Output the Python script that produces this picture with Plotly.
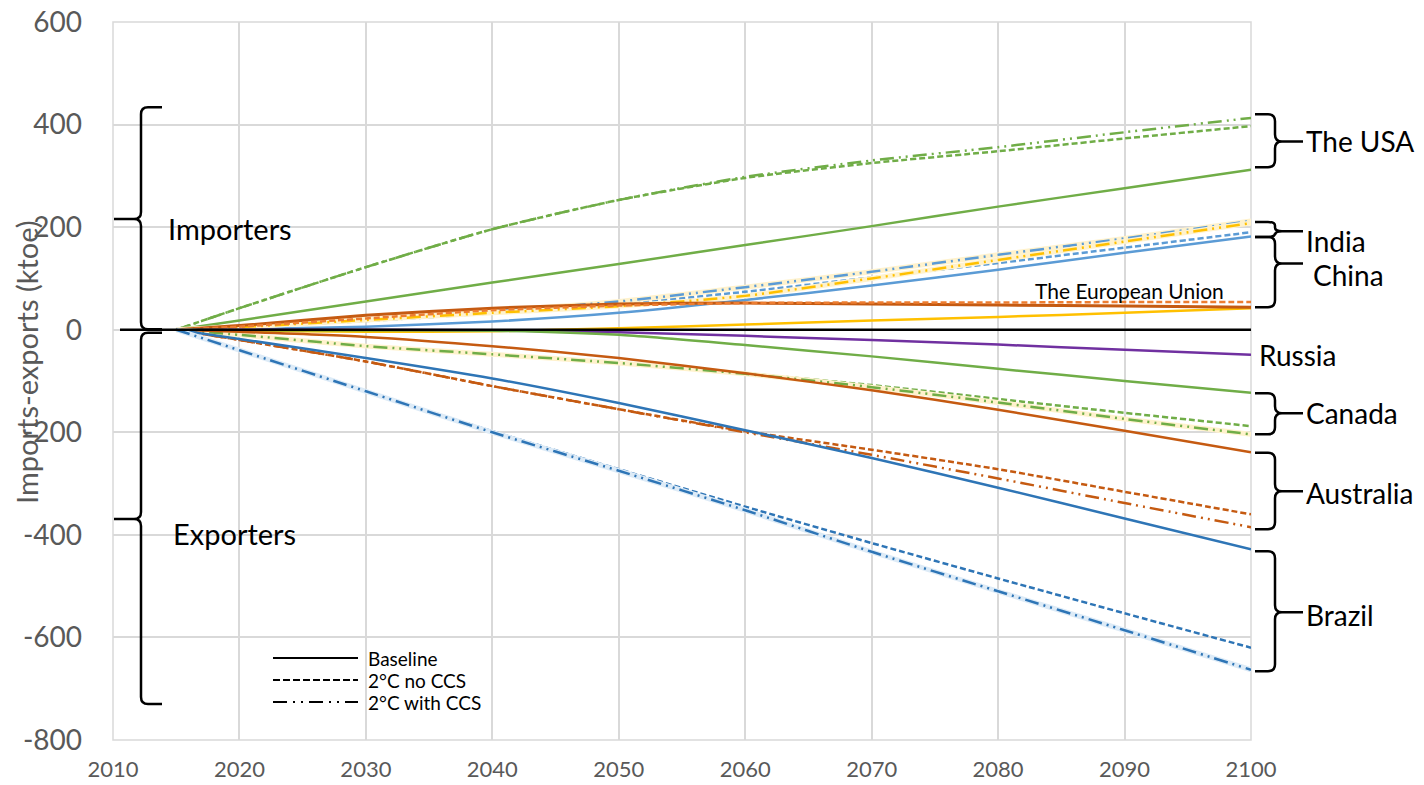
import plotly.graph_objects as go

years = [2015, 2020, 2030, 2040, 2050, 2060, 2070, 2080, 2090, 2100]

usa_base = [0, 18, 55, 92, 128, 165, 202, 240, 276, 312]
usa_noccs = [0, 42, 122, 196, 253, 296, 325, 348, 373, 397]
usa_ccs = [0, 42, 122, 196, 253, 298, 330, 356, 385, 413]

china_base = [0, 1, 6, 16, 33, 58, 86, 117, 150, 182]
china_noccs = [0, 5, 17, 32, 50, 74, 102, 130, 160, 190]
china_ccs = [0, 6, 20, 36, 55, 83, 113, 146, 178, 212]

india_base = [0, -2, -4, -3, 3, 10, 18, 25, 33, 42]
india_ccs = [0, 5, 19, 33, 46, 66, 100, 136, 172, 208]

eu_base = [0, 8, 28, 42, 50, 52, 50, 48, 46, 44]
eu_noccs = [0, 6, 22, 38, 47, 52, 53, 53, 54, 54]

russia_base = [0, 0, 0, -1, -5, -12, -20, -29, -39, -49]

canada_base = [0, -1, -1, -2, -10, -30, -52, -76, -100, -123]
canada_noccs = [0, -10, -32, -48, -65, -85, -108, -135, -162, -188]
canada_ccs = [0, -10, -32, -48, -65, -86, -112, -142, -174, -204]

australia_base = [0, -4, -14, -32, -55, -85, -118, -156, -197, -239]
australia_noccs = [0, -20, -62, -110, -155, -198, -234, -272, -316, -360]
australia_ccs = [0, -20, -62, -110, -155, -200, -244, -290, -338, -385]

brazil_base = [0, -18, -55, -95, -143, -196, -250, -308, -368, -428]
brazil_noccs = [0, -40, -120, -198, -272, -345, -416, -485, -553, -620]
brazil_ccs = [0, -40, -120, -200, -275, -352, -433, -510, -586, -663]

scenario_labels = ["Baseline", "2°C no CCS", "2°C with CCS"]
y_ticks = [600, 400, 200, 0, -200, -400, -600, -800]
y_tick_text = ["600", "400", "200", "0", "-200", "-400", "-600", "-800"]
x_ticks = [2010, 2020, 2030, 2040, 2050, 2060, 2070, 2080, 2090, 2100]

# brace groups: (top, bottom, tip) in data units
importers_brace = (434, 1, 216)
exporters_brace = (-6, -730, -369)
country_braces = {
    "The USA": (420, 317, 367),
    "India": (210, 181, 192),
    "China": (181, 44, 129),
    "Canada": (-124, -204, -163),
    "Australia": (-240, -389, -315),
    "Brazil": (-432, -666, -551),
}
country_label_y = {"The USA": 368, "India": 173, "China": 106, "Canada": -163,
                   "Australia": -319, "Brazil": -556}

DASH_NO = "6px,3px"
DASH_CCS = "14px,5px,2px,5px,2px,5px"

GREEN = "#70AD47"
BLUE_L = "#5B9BD5"
BLUE_D = "#2E75B6"
YELLOW = "#FFC000"
ORANGE_D = "#C55A11"
ORANGE = "#ED7D31"
PURPLE = "#7030A0"
PALE_Y = "#FFF2CC"
PALE_B = "#DDEBF7"
GRID = "#D9D9D9"

# page body adds an 8px offset; figure is sized so the plot area lands at
# screen x 113..1251, y 22..740
OFF = 8
W, H = 1424 - OFF, 785 - OFF
ML, MT = 113 - OFF, 22 - OFF
PW, PH = 1138, 718
MR, MB = W - ML - PW, H - MT - PH
PLOT_LEFT, PLOT_BOTTOM = 113, 740
Y_RANGE = (-800, 600)
PX_PER_Y = PH / (Y_RANGE[1] - Y_RANGE[0])

fig = go.Figure()

def add(y, color, dash="solid", width=2.5, under=None):
    if under:
        fig.add_trace(go.Scatter(x=years, y=y, mode="lines", showlegend=False, hoverinfo="skip",
                                 line=dict(color=under, width=5, shape="spline", smoothing=0.6)))
    fig.add_trace(go.Scatter(x=years, y=y, mode="lines", showlegend=False,
                             line=dict(color=color, width=width, dash=dash, shape="spline", smoothing=0.6)))

add(usa_base, GREEN)
add(usa_noccs, GREEN, DASH_NO)
add(usa_ccs, GREEN, DASH_CCS)
add(china_base, BLUE_L)
add(china_noccs, BLUE_L, DASH_NO)
add(china_ccs, BLUE_L, DASH_CCS, under=PALE_Y)
add(india_base, YELLOW)
add(india_ccs, YELLOW, DASH_CCS, under=PALE_Y)
add(eu_base, ORANGE_D, width=3)
add(eu_noccs, ORANGE, DASH_NO)
add(russia_base, PURPLE)
add(canada_base, GREEN)
add(canada_noccs, GREEN, DASH_NO)
add(canada_ccs, GREEN, DASH_CCS, under=PALE_Y)
add(australia_base, ORANGE_D)
add(australia_noccs, ORANGE_D, DASH_NO)
add(australia_ccs, ORANGE_D, DASH_CCS)
add(brazil_base, BLUE_D)
add(brazil_noccs, BLUE_D, DASH_NO)
add(brazil_ccs, BLUE_D, DASH_CCS, under=PALE_B)

def px_x(px):
    return (px - PLOT_LEFT) / PW

def px_y(py):
    return (PLOT_BOTTOM - py) / PH

def brace(top, bot, tip, x_line, x_hook, x_tip):
    ry = min(7 / PX_PER_Y, (top - bot) / 4)
    rx = 7 / PW
    h = 1 if x_hook > x_line else -1
    s = 1 if x_tip > x_line else -1
    p = (f"M {x_hook},{top} L {x_line + h*rx},{top} Q {x_line},{top} {x_line},{top - ry} "
         f"L {x_line},{tip + ry} Q {x_line},{tip} {x_line + s*rx},{tip} L {x_tip},{tip} "
         f"M {x_line + s*rx},{tip} Q {x_line},{tip} {x_line},{tip - ry} "
         f"L {x_line},{bot + ry} Q {x_line},{bot} {x_line + h*rx},{bot} L {x_hook},{bot}")
    return dict(type="path", path=p, xref="paper", yref="y",
                line=dict(color="black", width=2.5), layer="above")

FONT = "Lato, Calibri, Carlito, sans-serif"

shapes = []
# plot-area frame in grid colour (edge gridlines)
shapes.append(dict(type="rect", xref="paper", yref="paper", x0=0, x1=1, y0=0, y1=1,
                   line=dict(color=GRID, width=1.5), layer="below"))
shapes.append(dict(type="line", xref="paper", yref="y", x0=px_x(120), x1=1, y0=0, y1=0,
                   line=dict(color="black", width=2.5), layer="above"))
for b in (importers_brace, exporters_brace):
    shapes.append(brace(*b, x_line=px_x(141), x_hook=px_x(162), x_tip=px_x(114)))
for name, b in country_braces.items():
    shapes.append(brace(*b, x_line=px_x(1275), x_hook=px_x(1255), x_tip=px_x(1303)))

annotations = []
# manual legend
legend_dashes = ["solid", "7px,3px", "14px,6px,2px,6px,2px,6px"]
legend_rows = [658, 680, 702]
for lab, d, py in zip(scenario_labels, legend_dashes, legend_rows):
    shapes.append(dict(type="line", xref="paper", yref="paper", x0=px_x(273), x1=px_x(358),
                       y0=px_y(py), y1=px_y(py), line=dict(color="black", width=2, dash=d),
                       layer="above"))
    annotations.append(dict(text=lab, x=px_x(366), xref="paper", y=px_y(py), yref="paper",
                            xanchor="left", yanchor="middle", showarrow=False,
                            font=dict(size=19, color="black", family=FONT)))

annotations.append(dict(text="Importers", x=px_x(166), xref="paper", y=198, yref="y",
                        xanchor="left", yanchor="middle", showarrow=False,
                        font=dict(size=29, color="black", family=FONT)))
annotations.append(dict(text="Exporters", x=px_x(171), xref="paper", y=-397, yref="y",
                        xanchor="left", yanchor="middle", showarrow=False,
                        font=dict(size=29, color="black", family=FONT)))
annotations.append(dict(text="The European Union", x=px_x(1033), xref="paper", y=77, yref="y",
                        xanchor="left", yanchor="middle", showarrow=False,
                        font=dict(size=21, color="black", family=FONT)))
for name, yv in country_label_y.items():
    xp = px_x(1311) if name == "China" else px_x(1304)
    annotations.append(dict(text=name, x=xp, xref="paper", y=yv, yref="y",
                            xanchor="left", yanchor="middle", showarrow=False,
                            font=dict(size=28, color="black", family=FONT)))
annotations.append(dict(text="Russia", x=px_x(1257), xref="paper", y=-49, yref="y",
                        xanchor="left", yanchor="middle", showarrow=False,
                        font=dict(size=28, color="black", family=FONT)))
annotations.append(dict(text="Imports-exports (ktoe)", x=px_x(27), xref="paper",
                        y=px_y(362), yref="paper", textangle=-90,
                        xanchor="center", yanchor="middle", showarrow=False,
                        font=dict(size=29, color="#595959", family=FONT)))

fig.update_layout(
    width=W, height=H,
    margin=dict(l=ML, r=MR, t=MT, b=MB, autoexpand=False),
    plot_bgcolor="white", paper_bgcolor="white",
    showlegend=False,
    shapes=shapes,
    annotations=annotations,
    xaxis=dict(range=[2010, 2100], tickvals=x_ticks, showgrid=True, gridcolor=GRID,
               gridwidth=1.5, zeroline=False, showline=False, automargin=False,
               ticklabeloverflow="allow",
               tickfont=dict(size=22, color="#595959", family=FONT), ticklabelstandoff=14),
    yaxis=dict(range=list(Y_RANGE), tickvals=y_ticks, ticktext=y_tick_text, showgrid=True,
               gridcolor=GRID, gridwidth=1.5, zeroline=False, showline=False,
               automargin=False, ticklabeloverflow="allow",
               tickfont=dict(size=28, color="#595959", family=FONT), ticklabelstandoff=30),
)

fig.write_html("out.html")
